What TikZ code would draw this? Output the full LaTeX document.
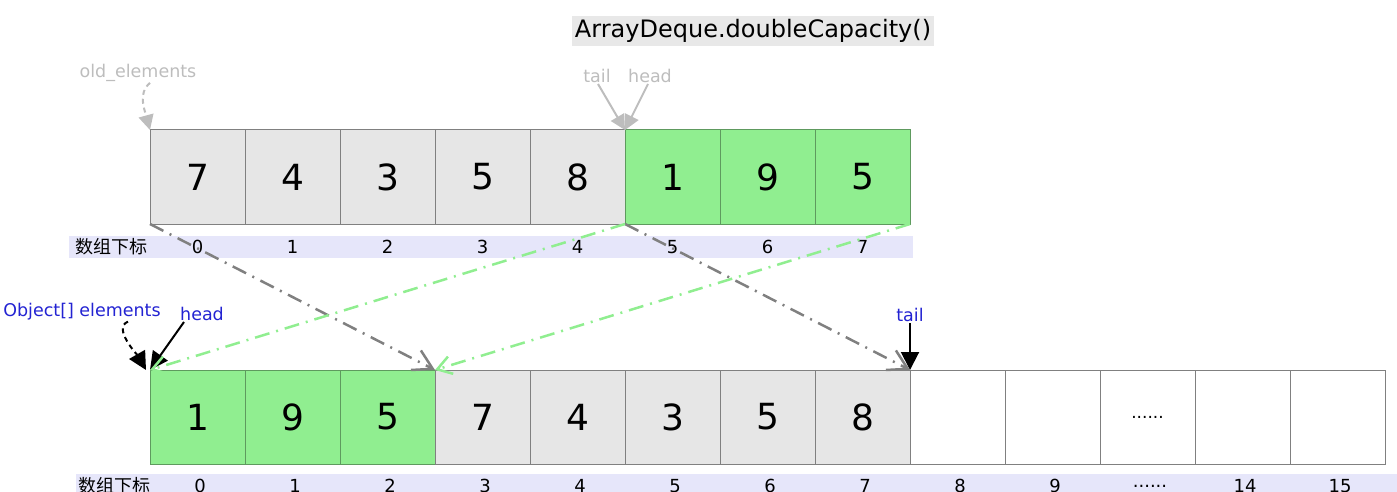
\documentclass[tikz,border=0pt]{standalone}
\usepackage{fontspec}
\setmainfont{DejaVu Sans}
\newfontfamily\cjk{Noto Sans CJK SC}
\usetikzlibrary{arrows.meta}
\definecolor{cellgray}{HTML}{E6E6E6}
\definecolor{cellgreen}{HTML}{90EE90}
\definecolor{greenborder}{HTML}{5E9A5E}
\definecolor{cellborder}{HTML}{808080}
\definecolor{bandcol}{HTML}{E6E6FA}
\definecolor{lightlbl}{HTML}{BDBDBD}
\definecolor{bluelbl}{HTML}{2323D2}
\definecolor{titlebg}{HTML}{E8E8E8}
\definecolor{arrgray}{HTML}{808080}
\definecolor{arrgreen}{HTML}{90EE90}
\newcommand{\sixdots}{......}
\tikzset{
  cellbox/.style={draw=cellborder, line width=1pt, minimum width=95pt, minimum height=94pt,
    anchor=north west, outer sep=0pt, inner sep=0pt, font=\fontsize{36}{36}\selectfont},
  bandbox/.style={fill=bandcol, draw=none, anchor=north west, outer sep=0pt, inner sep=0pt},
  idxlbl/.style={font=\fontsize{18}{18}\selectfont, inner sep=0pt},
  smalllbl/.style={font=\fontsize{17.5}{17.5}\selectfont, inner sep=1pt},
  dashdot/.style={dash pattern=on 15pt off 7pt on 2pt off 7pt},
  grayarrow/.style={draw=arrgray, line width=2.5pt, dashdot, -{Straight Barb[length=19pt,width=22pt]}},
  greenarrow/.style={draw=arrgreen, line width=2.5pt, dashdot, -{Straight Barb[length=14pt,width=18pt]}},
  lightarrow/.style={draw=lightlbl, line width=2pt, -{Triangle[length=15pt,width=15pt,fill=lightlbl]}},
  blackarrow/.style={draw=black, line width=2pt, -{Triangle[length=18pt,width=18pt,fill=black]}}
}
\begin{document}
\begin{tikzpicture}[x=1pt,y=-1pt]
\useasboundingbox (0,0) rectangle (1397,492);
\clip (0,0) rectangle (1397,492);

% title
\node[fill=titlebg, inner sep=3pt, font=\fontsize{24}{26}\selectfont] (title) at (753,31) {ArrayDeque.doubleCapacity()};

% top array
\foreach \i/\v/\c/\b in {0/7/cellgray/cellborder,1/4/cellgray/cellborder,2/3/cellgray/cellborder,3/5/cellgray/cellborder,4/8/cellgray/cellborder,5/1/cellgreen/greenborder,6/9/cellgreen/greenborder,7/5/cellgreen/greenborder}
  \node[cellbox, fill=\c, draw=\b] (t\i) at ({150+95*\i},130) {\v};

% top index band
\node[bandbox, minimum width=844pt, minimum height=22pt] (tband) at (69,236) {};
\node[idxlbl, anchor=west] (tidx) at (75,247) {\cjk 数组下标};
\foreach \i in {0,1,2,3,4,5,6,7}
  \node[idxlbl] (ti\i) at ({197.5+95*\i},247) {\i};

% bottom array
\foreach \i/\v/\c/\b in {0/1/cellgreen/greenborder,1/9/cellgreen/greenborder,2/5/cellgreen/greenborder,3/7/cellgray/cellborder,4/4/cellgray/cellborder,5/3/cellgray/cellborder,6/5/cellgray/cellborder,7/8/cellgray/cellborder}
  \node[cellbox, fill=\c, draw=\b] (b\i) at ({150+95*\i},370) {\v};
\foreach \i in {8,9,11,12}
  \node[cellbox, fill=white] (b\i) at ({150+95*\i},370) {};
\node[cellbox, fill=white, font=\fontsize{17}{17}\selectfont] (b10) at ({150+95*10},370) {\sixdots};

% bottom index band
\node[bandbox, minimum width=1330pt, minimum height=30pt] (bband) at (76,474) {};
\node[idxlbl, anchor=west] (bidx) at (78,486) {\cjk 数组下标};
\foreach \i/\t in {0/0,1/1,2/2,3/3,4/4,5/5,6/6,7/7,8/8,9/9,10/\sixdots,11/14,12/15}
  \node[idxlbl] (bi\i) at ({200+95*\i},486) {\t};

% top labels
\node[smalllbl, text=lightlbl] (oldel) at (138,73) {old\_elements};
\node[smalllbl, text=lightlbl] (ttail) at (597,76) {tail};
\node[smalllbl, text=lightlbl] (thead) at (650,76) {head};
\draw[lightarrow, dash pattern=on 5pt off 4pt] ([xshift=12pt]oldel.south) .. controls +(-12,10) and +(-6,-22) .. (t0.north west);
\draw[lightarrow] ([xshift=1pt]ttail.south) -- (t5.north west);
\draw[lightarrow] ([xshift=-2pt]thead.south) -- (t5.north west);

% bottom labels
\node[smalllbl, text=bluelbl] (objel) at (82,312) {Object[] elements};
\node[smalllbl, text=bluelbl] (bhead) at (202,314) {head};
\node[smalllbl, text=bluelbl] (btail) at (910,315) {tail};
\draw[blackarrow, dash pattern=on 5pt off 4pt] ([xshift=46pt]objel.south) .. controls +(-16,6) and +(-8,-14) .. ([xshift=-4pt]b0.north west);
\draw[blackarrow] ([xshift=-18pt]bhead.south) -- (b0.north west);
\draw[blackarrow] (btail.south) -- (b8.north west);

% copy arrows
\draw[grayarrow] (t0.south west) -- (b3.north west);
\draw[grayarrow] (t5.south west) -- (b8.north west);
\draw[greenarrow] (t5.south west) -- (b0.north west);
\draw[greenarrow] (t7.south east) -- (b3.north west);
\end{tikzpicture}
\end{document}
